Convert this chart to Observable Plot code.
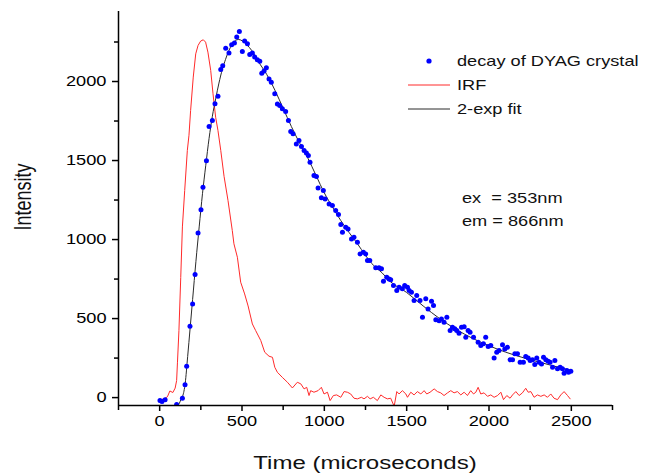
<!DOCTYPE html>
<html>
<head>
<meta charset="utf-8">
<script src="https://cdn.jsdelivr.net/npm/d3@7"></script>
<script src="https://cdn.jsdelivr.net/npm/@observablehq/plot@0.6"></script>
<style>
  body { margin: 0; background: #fff; }
  #wrap { position: relative; width: 663px; height: 475px; overflow: hidden; }
  #wrap svg { display: block; }
  #overlay { position: absolute; left: 0; top: 0; pointer-events: none; }
  #overlay text { font-family: "Liberation Sans", Arial, sans-serif; fill: #111; white-space: pre; }
</style>
</head>
<body>
<div id="wrap"></div>
<script>
// ---- data ----
const decayTime = [2,14,33,103,138,154,164,184,200,215,233,251,263,284,300,320,336,354,371,383,401,421,437,454,468,484,502,516,533,547,563,577,593,608,620,634,648,664,678,699,715,729,745,765,782,796,810,830,846,861,877,891,903,913,937,952,962,982,994,1005,1029,1049,1069,1086,1100,1110,1130,1144,1165,1180,1201,1217,1237,1251,1262,1276,1312,1332,1347,1359,1379,1393,1403,1420,1440,1454,1474,1488,1505,1515,1529,1545,1561,1581,1596,1616,1630,1651,1663,1677,1697,1711,1727,1744,1764,1778,1792,1804,1818,1833,1849,1859,1873,1885,1906,1934,1950,1966,1980,1995,2011,2031,2047,2061,2082,2096,2112,2128,2143,2157,2173,2189,2209,2223,2238,2250,2264,2278,2290,2304,2319,2331,2345,2359,2371,2386,2400,2416,2432,2446,2456,2473,2483,2497];
const decayIntensity = [-19,-25,-13,-44,-4,82,198,451,593,779,1042,1188,1331,1498,1715,1753,1859,1907,2076,2099,2211,2181,2232,2243,2281,2317,2190,2256,2239,2171,2180,2155,2137,2129,2053,2066,2087,2016,1996,1922,1858,1848,1827,1810,1753,1684,1669,1605,1627,1589,1564,1547,1532,1489,1405,1399,1327,1264,1310,1257,1225,1215,1184,1158,1095,1046,1078,1067,1003,1015,983,909,920,909,867,867,821,821,815,736,762,751,745,709,677,698,688,709,698,677,667,614,646,614,508,625,561,610,582,492,487,498,477,508,424,445,435,424,407,445,449,382,424,413,382,350,329,340,382,323,329,251,287,298,335,308,318,239,239,277,277,224,224,260,251,234,239,209,251,224,213,255,239,230,224,192,234,182,192,182,154,171,160,166];

const irfTime = [0,26,47,62,80,94,103,108,117,128,138,152,168,178,188,204,219,233,249,265,279,293,310,324,340,354,371,391,415,441,451,472,492,516,537,563,583,614,638,664,685,699,715,745,776,806,836,857,877,893,907,917,937,962,982,998,1019,1035,1055,1075,1100,1120,1140,1160,1180,1201,1225,1241,1262,1278,1298,1322,1343,1363,1383,1403,1424,1440,1454,1474,1495,1505,1525,1545,1565,1586,1606,1622,1642,1667,1687,1707,1727,1748,1768,1788,1808,1829,1849,1869,1889,1906,1920,1934,1950,1970,1991,2011,2031,2052,2072,2088,2108,2128,2143,2163,2183,2203,2223,2238,2254,2274,2294,2315,2335,2355,2375,2395,2416,2436,2456,2477,2493];
const irfIntensity = [-15,-8,5,42,32,60,108,220,424,760,1080,1310,1564,1660,1817,2028,2175,2228,2256,2264,2249,2186,2070,1922,1774,1690,1564,1400,1247,1057,973,888,730,656,580,466,424,361,287,262,255,192,160,128,97,61,97,87,55,65,13,44,34,44,65,23,34,-19,13,17,2,38,34,23,-4,-8,2,-8,8,-8,2,-19,17,2,-8,-4,-55,38,23,44,23,2,34,17,38,23,44,23,34,55,38,30,13,30,44,30,38,17,34,13,44,23,34,65,23,30,8,17,2,13,34,-13,13,-4,17,38,13,30,59,34,38,2,17,8,17,2,23,-4,-13,17,38,13,-8];

const fitTime = [105,120,130,140,155,170,185,200,220,240,260,280,300,320,340,360,380,400,420,440,460,480,500,530,560,600,650,700,750,800,850,900,950,1000,1050,1100,1150,1200,1250,1300,1350,1400,1500,1600,1700,1800,1900,2000,2100,2200,2300,2400,2500];
const fitIntensity = [-55,-35,-10,10,90,260,440,620,860,1080,1290,1470,1640,1780,1890,1990,2075,2140,2195,2235,2260,2266,2258,2232,2195,2125,2045,1945,1830,1715,1610,1515,1405,1295,1205,1120,1045,975,900,835,790,735,665,580,500,432,375,328,288,255,226,198,172];

const xDomain = [-250, 2750];
const yDomain = [-50, 2443];
const xMajorTicks = [0, 500, 1000, 1500, 2000, 2500];
const xMinorTicks = [-250, 250, 750, 1250, 1750, 2250, 2750];
const yMajorTicks = [0, 500, 1000, 1500, 2000];
const yMinorTicks = [250, 750, 1250, 1750, 2250];

const xTitle = "Time (microseconds)";
const yTitle = "Intensity";
const legendLabels = ["decay of DYAG crystal", "IRF", "2-exp fit"];
const annotationLines = ["ex  = 353nm", "em = 866nm"];

const colDecay = "#0000ff", colIrf = "#ff2a2a", colFit = "#2a2a2a";

// ---- build tables ----
const decay = decayTime.map((t, i) => ({t, v: decayIntensity[i]}));
const irf = irfTime.map((t, i) => ({t, v: irfIntensity[i]}));
const fit = fitTime.map((t, i) => ({t, v: fitIntensity[i]}));

const FONT = '"Liberation Sans", Arial, sans-serif';
const STRETCH = 1.3;
const fmt = d3.format("d");

const chart = Plot.plot({
  width: 663,
  height: 475,
  marginLeft: 118,
  marginRight: 51,
  marginTop: 11,
  marginBottom: 70,
  style: {fontFamily: FONT, fontSize: "14px", color: "#000", background: "#fff"},
  x: {domain: xDomain, label: null},
  y: {domain: yDomain, label: null},
  marks: [
    Plot.line(irf, {x: "t", y: "v", stroke: colIrf, strokeWidth: 1, clip: true}),
    Plot.line(fit, {x: "t", y: "v", stroke: colFit, strokeWidth: 1, curve: "monotone-x", clip: true}),
    Plot.dot(decay, {x: "t", y: "v", r: 2.5, fill: colDecay, stroke: "none", clip: true}),
    Plot.axisX({ticks: xMajorTicks, tickSize: 6, tickPadding: 5, fontSize: 14, label: null, tickFormat: fmt, stroke: "#000", strokeWidth: 1.5}),
    Plot.axisX({ticks: xMinorTicks, tickSize: 5, tickFormat: () => "", label: null, stroke: "#000", strokeWidth: 1.5}),
    Plot.axisY({ticks: yMajorTicks, tickSize: 6, tickPadding: 6, fontSize: 14, label: null, tickFormat: fmt, stroke: "#000", strokeWidth: 1.5}),
    Plot.axisY({ticks: yMinorTicks, tickSize: 4, tickFormat: () => "", label: null, stroke: "#000", strokeWidth: 1.5}),
    Plot.ruleY([yDomain[0]], {stroke: "#000", strokeWidth: 1.5}),
    Plot.ruleX([xDomain[0]], {stroke: "#000", strokeWidth: 1.5})
  ]
});

const wrap = document.getElementById("wrap");
wrap.appendChild(chart);

// widen tick labels horizontally like the reference
chart.querySelectorAll('g[aria-label$="tick label"] text').forEach(t => {
  const len = t.getComputedTextLength();
  if (len > 0) {
    t.setAttribute("textLength", (len * STRETCH).toFixed(2));
    t.setAttribute("lengthAdjust", "spacingAndGlyphs");
  }
});

// ---- overlay: axis titles, legend, annotation ----
const ns = "http://www.w3.org/2000/svg";
const ov = document.createElementNS(ns, "svg");
ov.setAttribute("id", "overlay");
ov.setAttribute("width", 663);
ov.setAttribute("height", 475);
wrap.appendChild(ov);

function addText(str, x, y, size, anchor, extra) {
  const t = document.createElementNS(ns, "text");
  t.textContent = str;
  t.setAttribute("font-size", size);
  t.setAttribute("text-anchor", anchor);
  t.setAttribute("transform", `translate(${x},${y}) scale(${STRETCH},1)` + (extra || ""));
  ov.appendChild(t);
  return t;
}

addText(xTitle, 365, 469, 18.5, "middle");
addText(yTitle, 31, 197, 18, "middle", " rotate(-90)");

// legend
const legendY = [61, 85, 109];
const c = document.createElementNS(ns, "circle");
c.setAttribute("cx", 429); c.setAttribute("cy", legendY[0]); c.setAttribute("r", 2.6);
c.setAttribute("fill", colDecay);
ov.appendChild(c);
[[colIrf, legendY[1]], [colFit, legendY[2]]].forEach(([col, y]) => {
  const l = document.createElementNS(ns, "line");
  l.setAttribute("x1", 408); l.setAttribute("x2", 450);
  l.setAttribute("y1", y); l.setAttribute("y2", y);
  l.setAttribute("stroke", col); l.setAttribute("stroke-width", 1);
  ov.appendChild(l);
});
legendLabels.forEach((s, i) => addText(s, 457, legendY[i] + 5, 14, "start"));

// annotation
addText(annotationLines[0], 462, 203, 14, "start");
addText(annotationLines[1], 462, 226, 14, "start");
</script>
</body>
</html>
